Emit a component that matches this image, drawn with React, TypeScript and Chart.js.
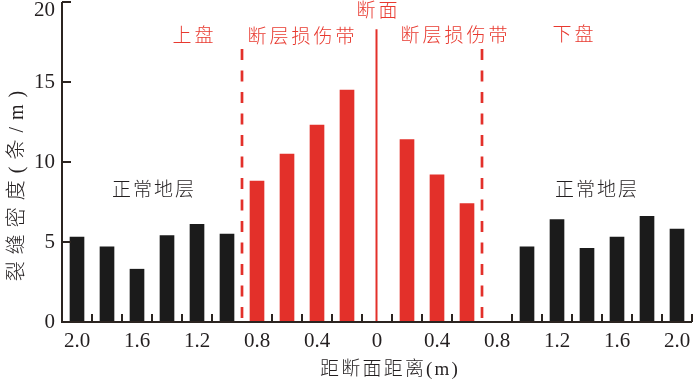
import React, { useEffect, useRef } from "react";
import { Chart, registerables } from "chart.js";

Chart.register(...registerables);

// Distance from the fault plane (m) and fracture density (条/m)
const hangingNormalDist = [2.0, 1.8, 1.6, 1.4, 1.2, 1.0];
const hangingNormalVals = [5.3, 4.7, 3.3, 5.4, 6.1, 5.5];
const hangingDamageDist = [0.8, 0.6, 0.4, 0.2];
const hangingDamageVals = [8.8, 10.5, 12.3, 14.5];
const footDamageDist = [0.2, 0.4, 0.6];
const footDamageVals = [11.4, 9.2, 7.4];
const footNormalDist = [1.0, 1.2, 1.4, 1.6, 1.8, 2.0];
const footNormalVals = [4.7, 6.4, 4.6, 5.3, 6.6, 5.8];

// Axis ticks
const xTickValues = [-2.0, -1.6, -1.2, -0.8, -0.4, 0, 0.4, 0.8, 1.2, 1.6, 2.0];
const xTickLabels = ["2.0", "1.6", "1.2", "0.8", "0.4", "0", "0.4", "0.8", "1.2", "1.6", "2.0"];
const yTickValues = [0, 5, 10, 15, 20];
const yTickLabels = ["0", "5", "10", "15", "20"];

// Zone boundaries (signed distance, hanging wall negative)
const damageBoundaries = [-0.9, 0.7];
const faultPlane = 0;

const xTitle = "距断面距离(m)";
const yTitle = "裂缝密度(条/m)";

const annotations = [
  { text: "上盘", x: -1.227, y: 17.8, color: "red", spacing: 3 },
  { text: "断层损伤带", x: -0.507, y: 17.78, color: "red", spacing: 3 },
  { text: "断面", x: 0.0, y: 19.35, color: "red", spacing: 3 },
  { text: "断层损伤带", x: 0.513, y: 17.8, color: "red", spacing: 3 },
  { text: "下盘", x: 1.307, y: 17.87, color: "red", spacing: 3 },
  { text: "正常地层", x: -1.493, y: 8.16, color: "black", spacing: 2 },
  { text: "正常地层", x: 1.46, y: 8.16, color: "black", spacing: 2 },
];

const BLACK = "#1b1b1b";
const RED = "#e3302a";
const RED_TEXT = "#e8392f";
const AXIS = "#2b2420";
const TEXT = "#231f20";
const SERIF = '"Liberation Serif", "Noto Sans CJK SC", serif';

function spacedText(ctx: CanvasRenderingContext2D, text: string, cx: number, cy: number, spacing: number) {
  ctx.letterSpacing = "0px";
  const n = Array.from(text).length;
  const w = ctx.measureText(text).width + spacing * (n - 1);
  ctx.letterSpacing = spacing + "px";
  ctx.textAlign = "left";
  ctx.fillText(text, cx - w / 2, cy);
  ctx.letterSpacing = "0px";
}

const overlay = {
  id: "overlay",
  afterDatasetsDraw(chart: any) {
    const { ctx, chartArea, scales } = chart;
    const x = scales.x;
    const y = scales.y;
    const y0 = y.getPixelForValue(0);
    ctx.save();

    // fault plane solid line
    ctx.strokeStyle = RED;
    ctx.lineWidth = 2;
    ctx.beginPath();
    const fx = x.getPixelForValue(faultPlane) - 0.5;
    ctx.moveTo(fx, y.getPixelForValue(18.3));
    ctx.lineTo(fx, y0);
    ctx.stroke();

    // damage-zone dashed boundaries
    ctx.lineWidth = 2.7;
    ctx.setLineDash([11, 10.5]);
    for (const b of damageBoundaries) {
      const bx = x.getPixelForValue(b);
      ctx.beginPath();
      ctx.moveTo(bx, y.getPixelForValue(17.06));
      ctx.lineTo(bx, y0);
      ctx.stroke();
    }
    ctx.setLineDash([]);

    // axes
    ctx.strokeStyle = AXIS;
    ctx.lineWidth = 2;
    ctx.beginPath();
    ctx.moveTo(chartArea.left, chartArea.top);
    ctx.lineTo(chartArea.left, y0);
    ctx.lineTo(chartArea.right, y0);
    ctx.stroke();

    // y inner ticks
    ctx.beginPath();
    for (const v of yTickValues) {
      const py = y.getPixelForValue(v);
      ctx.moveTo(chartArea.left, py);
      ctx.lineTo(chartArea.left + 9, py);
    }
    ctx.stroke();

    // x inner minor ticks at bar-slot boundaries
    ctx.beginPath();
    for (let k = -19; k <= 21; k += 2) {
      const v = k / 10;
      if (damageBoundaries.some((b) => Math.abs(b - v) < 1e-6)) continue;
      const px = x.getPixelForValue(v);
      ctx.moveTo(px, y0);
      ctx.lineTo(px, y0 - 8);
    }
    ctx.stroke();

    // tick labels
    ctx.fillStyle = TEXT;
    ctx.font = "21px " + SERIF;
    ctx.textBaseline = "middle";
    ctx.textAlign = "right";
    yTickValues.forEach((v, i) => {
      const py = Math.max(y.getPixelForValue(v), chartArea.top + 8);
      ctx.fillText(yTickLabels[i], chartArea.left - 7, py);
    });
    ctx.textAlign = "center";
    xTickValues.forEach((v, i) => {
      ctx.fillText(xTickLabels[i], x.getPixelForValue(v), y0 + 19);
    });

    // axis titles
    ctx.font = "300 19px " + SERIF;
    spacedText(ctx, xTitle, (chartArea.left + chartArea.right) / 2 + 12, y0 + 48, 2.2);
    ctx.save();
    ctx.translate(18, 186);
    ctx.rotate(-Math.PI / 2);
    ctx.font = "300 20px " + SERIF;
    spacedText(ctx, yTitle, 0, 0, 7);
    ctx.restore();

    // annotations
    ctx.font = "300 19px " + SERIF;
    for (const a of annotations) {
      ctx.fillStyle = a.color === "red" ? RED_TEXT : TEXT;
      spacedText(ctx, a.text, x.getPixelForValue(a.x), y.getPixelForValue(a.y), a.spacing);
    }
    ctx.restore();
  },
};

export default function App() {
  const ref = useRef<HTMLCanvasElement | null>(null);
  useEffect(() => {
    if (!ref.current) return;
    const normal = [
      ...hangingNormalDist.map((d, i) => ({ x: -d, y: hangingNormalVals[i] })),
      ...footNormalDist.map((d, i) => ({ x: d, y: footNormalVals[i] })),
    ];
    const damage = [
      ...hangingDamageDist.map((d, i) => ({ x: -d, y: hangingDamageVals[i] })),
      ...footDamageDist.map((d, i) => ({ x: d, y: footDamageVals[i] })),
    ];
    const chart = new Chart(ref.current, {
      type: "bar",
      data: {
        datasets: [
          { data: normal as any, backgroundColor: BLACK, barThickness: 14, grouped: false } as any,
          { data: damage as any, backgroundColor: RED, barThickness: 14, grouped: false } as any,
        ],
      },
      options: {
        animation: false,
        responsive: false,
        devicePixelRatio: 1,
        layout: { padding: { left: 62, top: 2, right: 8, bottom: 59 } },
        plugins: { legend: { display: false }, tooltip: { enabled: false } },
        scales: {
          x: { type: "linear", min: -2.1, max: 2.1, display: false, offset: false },
          y: { type: "linear", min: 0, max: 20, display: false },
        },
      },
      plugins: [overlay],
    });
    return () => chart.destroy();
  }, []);
  return (
    <div style={{ position: "absolute", left: 0, top: 0, width: 700, height: 381, background: "#fff" }}>
      <canvas ref={ref} width={700} height={381} style={{ width: 700, height: 381 }} />
    </div>
  );
}
